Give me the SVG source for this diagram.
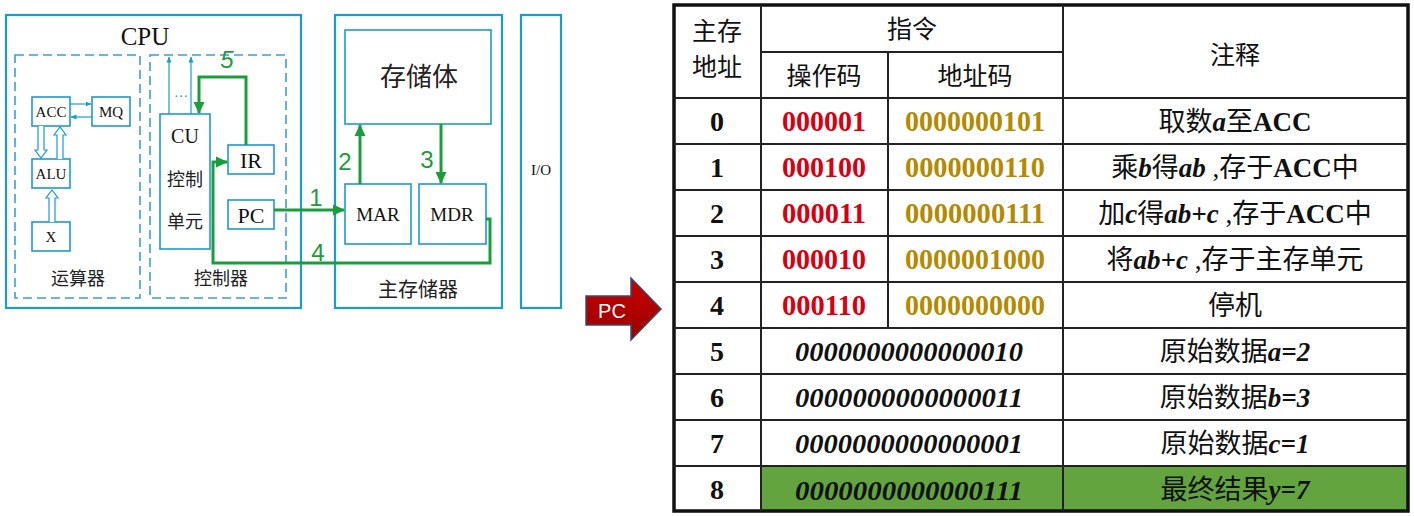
<svg xmlns="http://www.w3.org/2000/svg" width="1414" height="516" viewBox="0 0 1414 516">
<defs>
<marker id="ga" markerUnits="userSpaceOnUse" markerWidth="12" markerHeight="12" viewBox="0 0 12 12" refX="11" refY="6" orient="auto"><path d="M0,0.5 L12,6 L0,11.5 Z" fill="#1a9e3c"/></marker>
<marker id="ba" markerUnits="userSpaceOnUse" markerWidth="6" markerHeight="6" viewBox="0 0 6 6" refX="5.5" refY="3" orient="auto"><path d="M0,0.5 L6,3 L0,5.5 Z" fill="#1c9ad2"/></marker>
<linearGradient id="red" x1="0" y1="0" x2="0" y2="1"><stop offset="0" stop-color="#c80000"/><stop offset="1" stop-color="#9a0000"/></linearGradient>
</defs>
<style>
.box{fill:none;stroke:#1c9ad2;stroke-width:2.2}
.sbox{fill:#fff;stroke:#1c9ad2;stroke-width:1.6}
.dash{fill:none;stroke:#3aa0cf;stroke-width:1.6;stroke-dasharray:9,5}
.thin{fill:none;stroke:#1c9ad2;stroke-width:1.2}
.hol{fill:#fff;stroke:#1c9ad2;stroke-width:1.2}
.g{fill:none;stroke:#1a9e3c;stroke-width:3}
.gl{fill:#1a9e3c;font-family:"Liberation Sans","DejaVu Sans",sans-serif;font-size:24px;text-anchor:middle}
.t{font-family:"Liberation Serif","Noto Sans CJK SC",serif;fill:#111;text-anchor:middle}
.c{font-family:"Noto Sans CJK SC","Liberation Serif",sans-serif;fill:#222;text-anchor:middle}
.tl{stroke:#222;stroke-width:2;fill:none}
.num{font-family:"Liberation Serif",serif;font-weight:bold;font-size:28px;text-anchor:middle;fill:#111}
.op{font-family:"Liberation Serif",serif;font-weight:bold;font-size:29px;text-anchor:middle;fill:#d80010}
.ad{font-family:"Liberation Serif",serif;font-weight:bold;font-size:29px;text-anchor:middle;fill:#b38a00}
.dt{font-family:"Liberation Serif",serif;font-weight:bold;font-style:italic;font-size:28px;text-anchor:middle;fill:#111}
.nt{font-family:"Liberation Serif","Noto Sans CJK SC",serif;font-size:27px;text-anchor:middle;fill:#111}
.nt tspan.v{font-weight:bold;font-style:italic}
.nt tspan.b{font-weight:bold}
.hd{font-family:"Noto Sans CJK SC",sans-serif;font-size:25px;text-anchor:middle;fill:#111}
</style>

<g id="cpu">
<rect class="box" x="6" y="15" width="295" height="293"/>
<text class="t" x="145" y="45" font-size="25">CPU</text>
</g>
<g id="alu-unit">
<rect class="dash" x="15" y="55" width="125" height="243"/>
<text class="c" x="78" y="285" font-size="18">运算器</text>
</g>
<g id="ctrl-unit">
<rect class="dash" x="150" y="55" width="136" height="243"/>
<text class="c" x="221" y="285" font-size="18">控制器</text>
</g>
<g id="acc"><rect class="sbox" x="32" y="97" width="38" height="29"/><text class="t" x="51" y="117" font-size="15">ACC</text></g>
<g id="mq"><rect class="sbox" x="92" y="97" width="38" height="29"/><text class="t" x="111" y="117" font-size="15">MQ</text></g>
<g id="alu"><rect class="sbox" x="32" y="159" width="38" height="29"/><text class="t" x="51" y="179" font-size="15">ALU</text></g>
<g id="x"><rect class="sbox" x="32" y="222" width="38" height="29"/><text class="t" x="51" y="242" font-size="15">X</text></g>
<g id="cu">
<rect class="sbox" x="160" y="114" width="50" height="135"/>
<text class="t" x="185" y="143" font-size="20">CU</text>
<text class="c" x="185" y="186" font-size="18">控制</text>
<text class="c" x="185" y="228" font-size="18">单元</text>
</g>
<g id="ir"><rect class="sbox" x="228" y="145" width="46" height="29"/><text class="t" x="251" y="168" font-size="22">IR</text></g>
<g id="pc"><rect class="sbox" x="228" y="200" width="46" height="29"/><text class="t" x="251" y="223" font-size="22">PC</text></g>

<g id="memory">
<rect class="box" x="335" y="15" width="167" height="293"/>
<text class="c" x="418" y="297" font-size="20">主存储器</text>
</g>
<g id="storage"><rect class="sbox" x="345" y="30" width="146" height="94"/><text class="c" x="419" y="86" font-size="26">存储体</text></g>
<g id="mar"><rect class="sbox" x="345" y="184" width="66" height="60"/><text class="t" x="378" y="221" font-size="19">MAR</text></g>
<g id="mdr"><rect class="sbox" x="419" y="184" width="67" height="60"/><text class="t" x="452" y="221" font-size="19">MDR</text></g>
<g id="io"><rect class="box" x="521" y="15" width="40" height="293"/><text class="t" x="541" y="175" font-size="15">I/O</text></g>

<g id="connectors">
<path class="thin" d="M70,104 H91" marker-end="url(#ba)"/>
<path class="thin" d="M92,117 H71" marker-end="url(#ba)"/>
<path class="hol" d="M38,126 V150 H35 L41,158 L47,150 H44 V126"/>
<path class="hol" d="M57,159 V135 H54 L60,127 L66,135 H63 V159"/>
<path class="hol" d="M49,222 V198 H46 L52,190 L58,198 H55 V222"/>
<path class="thin" d="M169,114 V57" marker-end="url(#ba)"/>
<path class="thin" d="M191,114 V57" marker-end="url(#ba)"/>
<text x="181" y="97" font-family="Liberation Serif,serif" font-size="14" fill="#1c9ad2" text-anchor="middle">…</text>
<path class="g" d="M246,145 V77 H199 V113" marker-end="url(#ga)"/>
<path class="g" d="M274,210 H344" marker-end="url(#ga)"/>
<path class="g" d="M360,184 V125" marker-end="url(#ga)"/>
<path class="g" d="M441,124 V183" marker-end="url(#ga)"/>
<path class="g" d="M486,219 H490 V263 H213 V162 H227" marker-end="url(#ga)"/>
<text class="gl" x="316" y="206">1</text>
<text class="gl" x="345" y="170">2</text>
<text class="gl" x="427" y="168">3</text>
<text class="gl" x="318" y="261">4</text>
<text class="gl" x="227" y="68" font-style="italic">5</text>
</g>

<g id="pc-arrow">
<polygon points="586,296 631,296 631,278 661,309 631,340 631,325 586,325" fill="url(#red)" stroke="#3b4a6b" stroke-width="1.5"/>
<text x="612" y="318" font-family="Liberation Sans,sans-serif" font-size="20" fill="#fff" text-anchor="middle">PC</text>
</g>

<g id="table">
<rect x="761" y="466" width="647" height="45" fill="#63a43f"/>
<rect x="674" y="5" width="734" height="506" fill="none" stroke="#111" stroke-width="3.5"/>
<path class="tl" d="M761,5 V511 M1063,5 V511 M888,52 V328 M761,52 H1063 M674,98 H1408 M674,144 H1408 M674,190 H1408 M674,236 H1408 M674,282 H1408 M674,328 H1408 M674,374 H1408 M674,420 H1408 M674,466 H1408"/>
<text class="hd" x="717" y="40">主存</text>
<text class="hd" x="717" y="76">地址</text>
<text class="hd" x="912" y="38">指令</text>
<text class="hd" x="824" y="85">操作码</text>
<text class="hd" x="975" y="85">地址码</text>
<text class="hd" x="1235" y="64">注释</text>

<text class="num" x="717" y="131">0</text>
<text class="num" x="717" y="177">1</text>
<text class="num" x="717" y="223">2</text>
<text class="num" x="717" y="269">3</text>
<text class="num" x="717" y="315">4</text>
<text class="num" x="717" y="361">5</text>
<text class="num" x="717" y="407">6</text>
<text class="num" x="717" y="453">7</text>
<text class="num" x="717" y="499">8</text>

<text class="op" x="824" y="131" textLength="84" lengthAdjust="spacingAndGlyphs">000001</text>
<text class="op" x="824" y="177" textLength="84" lengthAdjust="spacingAndGlyphs">000100</text>
<text class="op" x="824" y="223" textLength="84" lengthAdjust="spacingAndGlyphs">000011</text>
<text class="op" x="824" y="269" textLength="84" lengthAdjust="spacingAndGlyphs">000010</text>
<text class="op" x="824" y="315" textLength="84" lengthAdjust="spacingAndGlyphs">000110</text>
<text class="ad" x="975" y="131" textLength="140" lengthAdjust="spacingAndGlyphs">0000000101</text>
<text class="ad" x="975" y="177" textLength="140" lengthAdjust="spacingAndGlyphs">0000000110</text>
<text class="ad" x="975" y="223" textLength="140" lengthAdjust="spacingAndGlyphs">0000000111</text>
<text class="ad" x="975" y="269" textLength="140" lengthAdjust="spacingAndGlyphs">0000001000</text>
<text class="ad" x="975" y="315" textLength="140" lengthAdjust="spacingAndGlyphs">0000000000</text>

<text class="dt" x="909" y="361" textLength="228" lengthAdjust="spacingAndGlyphs">0000000000000010</text>
<text class="dt" x="909" y="407" textLength="228" lengthAdjust="spacingAndGlyphs">0000000000000011</text>
<text class="dt" x="909" y="453" textLength="228" lengthAdjust="spacingAndGlyphs">0000000000000001</text>
<text class="dt" x="909" y="500" textLength="228" lengthAdjust="spacingAndGlyphs">0000000000000111</text>

<text class="nt" x="1235" y="131">取数<tspan class="v">a</tspan>至<tspan class="b">ACC</tspan></text>
<text class="nt" x="1235" y="177">乘<tspan class="v">b</tspan>得<tspan class="v">ab</tspan> ,存于<tspan class="b">ACC</tspan>中</text>
<text class="nt" x="1235" y="223">加<tspan class="v">c</tspan>得<tspan class="v">ab+c</tspan>  ,存于<tspan class="b">ACC</tspan>中</text>
<text class="nt" x="1235" y="269">将<tspan class="v">ab+c</tspan> ,存于主存单元</text>
<text class="nt" x="1235" y="315">停机</text>
<text class="nt" x="1235" y="361">原始数据<tspan class="v">a=2</tspan></text>
<text class="nt" x="1235" y="407">原始数据<tspan class="v">b=3</tspan></text>
<text class="nt" x="1235" y="453">原始数据<tspan class="v">c=1</tspan></text>
<text class="nt" x="1235" y="499">最终结果<tspan class="v">y=7</tspan></text>
</g>
</svg>
